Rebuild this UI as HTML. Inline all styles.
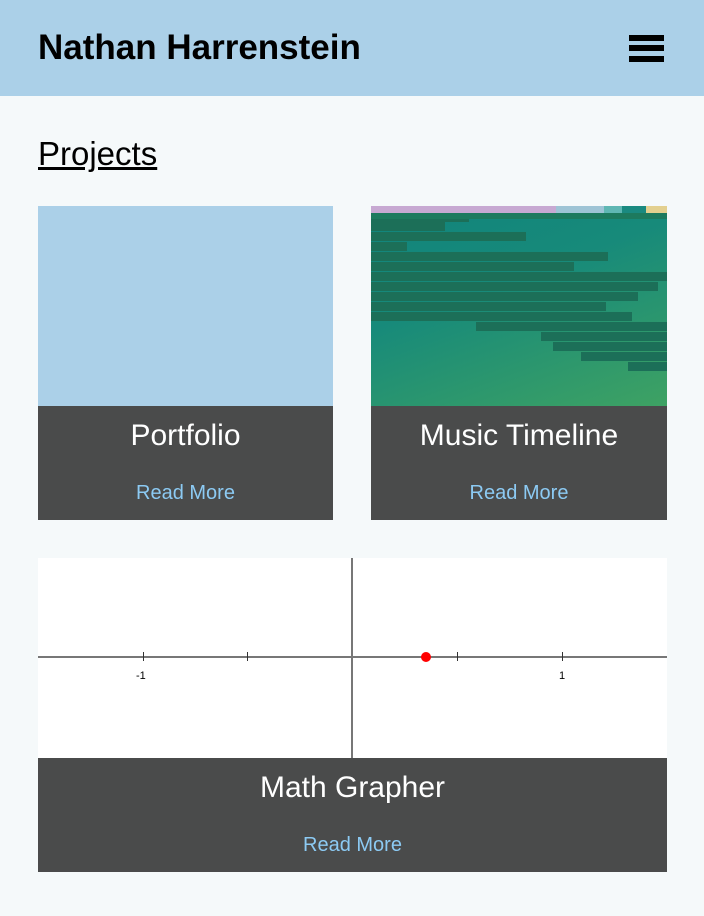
<!DOCTYPE html>
<html><head><style>
body{margin:0;width:704px;height:916px;background:#f5f9fa;font-family:"Liberation Sans",sans-serif;position:relative;overflow:hidden}
.hdr{position:absolute;left:0;top:0;width:704px;height:96px;background:#abd0e8}
.hdr h1{position:absolute;left:38px;top:28px;margin:0;font-size:35px;font-weight:bold;color:#000}
.hb{position:absolute;left:629px;width:35px;height:6px;background:#000}
.proj{position:absolute;left:38px;top:135px;font-size:33px;text-decoration:underline;color:#000}
.card{position:absolute;background:#4a4b4b;color:#fff;text-align:center}
.card .t{position:absolute;left:0;right:0;font-size:30px}
.card .r{position:absolute;left:0;right:0;font-size:20px;color:#8ccaf3}
.bar{position:absolute;height:9px;background:#1c6f58}
</style></head><body>
<div class="hdr"><h1>Nathan Harrenstein</h1>
<div class="hb" style="top:35px"></div><div class="hb" style="top:45px"></div><div class="hb" style="top:56px"></div></div>
<div class="proj">Projects</div>

<div style="position:absolute;left:38px;top:206px;width:295px;height:200px;background:#abd0e8"></div>
<div class="card" style="left:38px;top:406px;width:295px;height:114px"><div class="t" style="top:13px">Portfolio</div><div class="r" style="top:76px">Read More</div></div>

<div style="position:absolute;left:371px;top:206px;width:296px;height:200px;overflow:hidden;background:linear-gradient(160deg,#11847c 0%,#178a7a 40%,#3ea263 100%)">
<div style="position:absolute;left:0;top:0;width:185px;height:7px;background:#c7a9d2"></div>
<div style="position:absolute;left:185px;top:0;width:48px;height:7px;background:#9ec4d5"></div>
<div style="position:absolute;left:233px;top:0;width:18px;height:7px;background:#5fb7b3"></div>
<div style="position:absolute;left:251px;top:0;width:24px;height:7px;background:#1a8a80"></div>
<div style="position:absolute;left:275px;top:0;width:21px;height:7px;background:#e3d08f"></div>
<div style="position:absolute;left:0;top:7px;width:296px;height:6px;background:#1d7a5e"></div>
<div class="bar" style="left:0;top:13px;width:98px;height:3px"></div>
<div class="bar" style="left:0;top:16px;width:74px"></div>
<div class="bar" style="left:0;top:26px;width:155px"></div>
<div class="bar" style="left:0;top:36px;width:36px"></div>
<div class="bar" style="left:0;top:46px;width:237px"></div>
<div class="bar" style="left:0;top:56px;width:203px"></div>
<div class="bar" style="left:0;top:66px;width:296px"></div>
<div class="bar" style="left:0;top:76px;width:287px"></div>
<div class="bar" style="left:0;top:86px;width:267px"></div>
<div class="bar" style="left:0;top:96px;width:235px"></div>
<div class="bar" style="left:0;top:106px;width:261px"></div>
<div class="bar" style="left:105px;top:116px;width:191px"></div>
<div class="bar" style="left:170px;top:126px;width:126px"></div>
<div class="bar" style="left:182px;top:136px;width:114px"></div>
<div class="bar" style="left:210px;top:146px;width:86px"></div>
<div class="bar" style="left:257px;top:156px;width:39px"></div>
</div>
<div class="card" style="left:371px;top:406px;width:296px;height:114px"><div class="t" style="top:13px">Music Timeline</div><div class="r" style="top:76px">Read More</div></div>

<div style="position:absolute;left:38px;top:558px;width:629px;height:200px;background:#fff">
<div style="position:absolute;left:0;top:98px;width:629px;height:2px;background:#777"></div>
<div style="position:absolute;left:313px;top:0;width:2px;height:200px;background:#777"></div>
<div style="position:absolute;left:105px;top:94px;width:1px;height:9px;background:#333"></div>
<div style="position:absolute;left:209px;top:94px;width:1px;height:9px;background:#333"></div>
<div style="position:absolute;left:419px;top:94px;width:1px;height:9px;background:#333"></div>
<div style="position:absolute;left:524px;top:94px;width:1px;height:9px;background:#333"></div>
<div style="position:absolute;left:383px;top:94px;width:10px;height:10px;border-radius:50%;background:#f00"></div>
<div style="position:absolute;left:98px;top:112px;font-size:11px;color:#000">-1</div>
<div style="position:absolute;left:521px;top:112px;font-size:11px;color:#000">1</div>
</div>
<div class="card" style="left:38px;top:758px;width:629px;height:114px"><div class="t" style="top:13px">Math Grapher</div><div class="r" style="top:76px">Read More</div></div>
</body></html>
